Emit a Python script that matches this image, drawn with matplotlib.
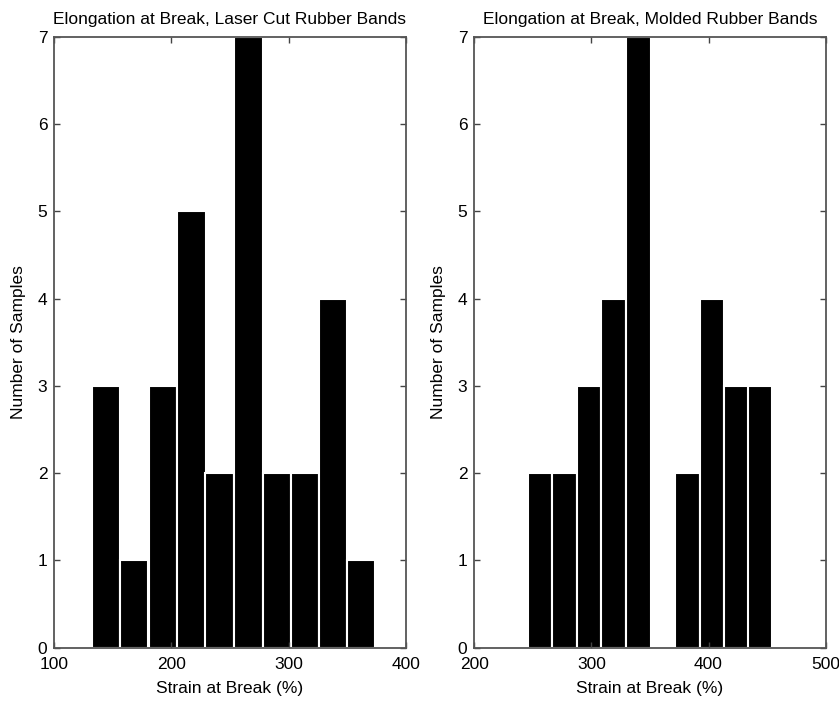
import numpy as np
import matplotlib
matplotlib.use('Agg')
import matplotlib.pyplot as plt

plt.rcParams['font.family'] = ['Liberation Sans', 'DejaVu Sans']

# laser cut bands: histogram bins and counts
laser_centers = [144, 168, 193, 217, 241, 266, 290, 314, 338, 362]
laser_counts = [3, 1, 3, 5, 2, 7, 2, 2, 4, 1]
laser_width = 24.3

# molded bands
molded_centers = [256, 277, 298, 319, 340, 361, 382, 403, 424, 444]
molded_counts = [2, 2, 3, 4, 7, 0, 2, 4, 3, 3]
molded_width = 20.9

titles = ['Elongation at Break, Laser Cut Rubber Bands',
          'Elongation at Break, Molded Rubber Bands']

fs = 12.5
fig = plt.figure(figsize=(8.39, 7.05), dpi=100)
ax1 = fig.add_axes([0.0647, 0.0813, 0.4188, 0.8667])
ax2 = fig.add_axes([0.5653, 0.0813, 0.4188, 0.8667])

panels = [(ax1, laser_centers, laser_counts, laser_width, (100, 400)),
          (ax2, molded_centers, molded_counts, molded_width, (200, 500))]

for i, (ax, c, n, w, xl) in enumerate(panels):
    ax.bar(c, n, width=w, color='black', edgecolor='white', linewidth=1.5)
    ax.set_xlim(xl)
    ax.set_ylim(0, 7)
    ax.set_xticks(np.arange(xl[0], xl[1] + 1, 100))
    ax.set_yticks(range(0, 8))
    ax.tick_params(direction='in', top=True, right=True, length=4, width=1,
                   color='#444444', labelsize=fs)
    ax.tick_params(axis='x', pad=7)
    ax.tick_params(axis='y', pad=5)
    for s in ax.spines.values():
        s.set_color('#555555')
        s.set_linewidth(1.3)
    ax.set_title(titles[i], fontsize=fs, pad=9)
    ax.set_xlabel('Strain at Break (%)', fontsize=fs, labelpad=6)
    ax.set_ylabel('Number of Samples', fontsize=fs, labelpad=8)

plt.savefig('out.png', dpi=100)
